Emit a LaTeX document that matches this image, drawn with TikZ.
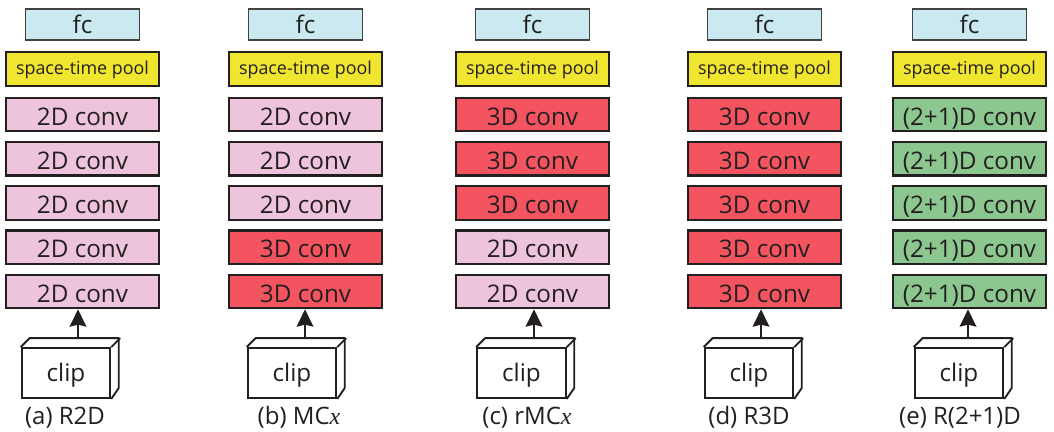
\documentclass[tikz,border=0pt]{standalone}
\usepackage{fontspec}
\setmainfont{Open Sans}
\newfontfamily\varfont{Liberation Serif}
\usepackage{xcolor}
\usepackage{tikz}
\definecolor{fcblue}{HTML}{CAE9F1}
\definecolor{poolyellow}{HTML}{F1E62F}
\definecolor{convpink}{HTML}{EEC4DD}
\definecolor{convred}{HTML}{F4545F}
\definecolor{convgreen}{HTML}{8CC78F}
\definecolor{linegray}{HTML}{231F20}
\tikzset{
  fcbox/.style={rectangle, draw=linegray!85, line width=1.3pt, fill=fcblue, minimum width=85.5pt, minimum height=23.5pt, inner sep=0pt, text=linegray, text height=13.2pt, text depth=0pt, font=\fontsize{18.2}{20}\selectfont},
  poolbox/.style={rectangle, draw=linegray, line width=1.7pt, fill=poolyellow, minimum width=115pt, minimum height=25pt, inner sep=0pt, text=linegray, text height=7.5pt, text depth=0pt, font=\fontsize{13.4}{16}\selectfont},
  conv/.style={rectangle, draw=linegray, line width=1.7pt, minimum width=115pt, minimum height=25pt, inner sep=0pt, text=linegray, text height=15.8pt, text depth=0pt, font=\fontsize{18.2}{20}\selectfont},
  conv2d/.style={conv, fill=convpink},
  conv3d/.style={conv, fill=convred},
  conv21d/.style={conv, fill=convgreen},
  clipbox/.style={rectangle, draw=linegray, line width=1.4pt, fill=white, minimum width=66.5pt, minimum height=37.5pt, inner sep=0pt, text=linegray, text height=13pt, text depth=0pt, font=\fontsize{18.2}{20}\selectfont},
  caption/.style={text=linegray, inner sep=0pt, text height=10.5pt, text depth=0pt, font=\fontsize{18}{20}\selectfont},
  arrow/.style={draw=linegray, line width=1.4pt, -{Stealth[length=13pt, width=12.5pt, inset=1.5pt]}},
}
\usetikzlibrary{arrows.meta}
\begin{document}
\begin{tikzpicture}[x=0.75pt, y=-0.75pt]
\useasboundingbox (0,0) rectangle (1054,432);
% column a
\node[fcbox] (fcA) at (82.5,24.5) {fc};
\node[poolbox] (poolA) at (82.5,69) {space-time pool};
\node[conv2d] (convA1) at (82.5,114.5) {2D conv};
\node[conv2d] (convA2) at (82.5,158.7) {2D conv};
\node[conv2d] (convA3) at (82.5,203) {2D conv};
\node[conv2d] (convA4) at (82.5,247.2) {2D conv};
\node[conv2d] (convA5) at (82.5,291.5) {2D conv};
\node[clipbox] (clipA) at (66,373) {clip};
\node[caption] (capA) at (65,417) {(a) R2D};
\coordinate (arrA) at (78,338);
% column b
\node[fcbox] (fcB) at (305.5,24.5) {fc};
\node[poolbox] (poolB) at (305.5,69) {space-time pool};
\node[conv2d] (convB1) at (305.5,114.5) {2D conv};
\node[conv2d] (convB2) at (305.5,158.7) {2D conv};
\node[conv2d] (convB3) at (305.5,203) {2D conv};
\node[conv3d] (convB4) at (305.5,247.2) {3D conv};
\node[conv3d] (convB5) at (305.5,291.5) {3D conv};
\node[clipbox] (clipB) at (292,373) {clip};
\node[caption] (capB) at (299,417) {(b) MC{\varfont\itshape x}};
\coordinate (arrB) at (305,338);
% column c
\node[fcbox] (fcC) at (532.5,24.5) {fc};
\node[poolbox] (poolC) at (532.5,69) {space-time pool};
\node[conv3d] (convC1) at (532.5,114.5) {3D conv};
\node[conv3d] (convC2) at (532.5,158.7) {3D conv};
\node[conv3d] (convC3) at (532.5,203) {3D conv};
\node[conv2d] (convC4) at (532.5,247.2) {2D conv};
\node[conv2d] (convC5) at (532.5,291.5) {2D conv};
\node[clipbox] (clipC) at (521.5,373) {clip};
\node[caption] (capC) at (527,417) {(c) rMC{\varfont\itshape x}};
\coordinate (arrC) at (534,338);
% column d
\node[fcbox] (fcD) at (764.5,24.5) {fc};
\node[poolbox] (poolD) at (764.5,69) {space-time pool};
\node[conv3d] (convD1) at (764.5,114.5) {3D conv};
\node[conv3d] (convD2) at (764.5,158.7) {3D conv};
\node[conv3d] (convD3) at (764.5,203) {3D conv};
\node[conv3d] (convD4) at (764.5,247.2) {3D conv};
\node[conv3d] (convD5) at (764.5,291.5) {3D conv};
\node[clipbox] (clipD) at (749,373) {clip};
\node[caption] (capD) at (749,417) {(d) R3D};
\coordinate (arrD) at (761,338);
% column e
\node[fcbox] (fcE) at (969.5,24.5) {fc};
\node[poolbox] (poolE) at (969.5,69) {space-time pool};
\node[conv21d] (convE1) at (969.5,114.5) {(2+1)D conv};
\node[conv21d] (convE2) at (969.5,158.7) {(2+1)D conv};
\node[conv21d] (convE3) at (969.5,203) {(2+1)D conv};
\node[conv21d] (convE4) at (969.5,247.2) {(2+1)D conv};
\node[conv21d] (convE5) at (969.5,291.5) {(2+1)D conv};
\node[clipbox] (clipE) at (959,373) {clip};
\node[caption] (capE) at (960,417) {(e) R(2+1)D};
\coordinate (arrE) at (968,338);
% clip faces and arrows
\foreach \col in {A,B,C,D,E} {
  \draw[draw=linegray, line width=1.4pt, line join=round] (clip\col.north west) -- ++(9,-9) -- ++(89,0) -- ++(0,50) -- (clip\col.south east);
  \draw[draw=linegray, line width=1.4pt, line join=round] (clip\col.north east) -- ++(9,-9);
  \draw[arrow] (arr\col) -- (arr\col |- conv\col5.south);
}
\end{tikzpicture}
\end{document}
